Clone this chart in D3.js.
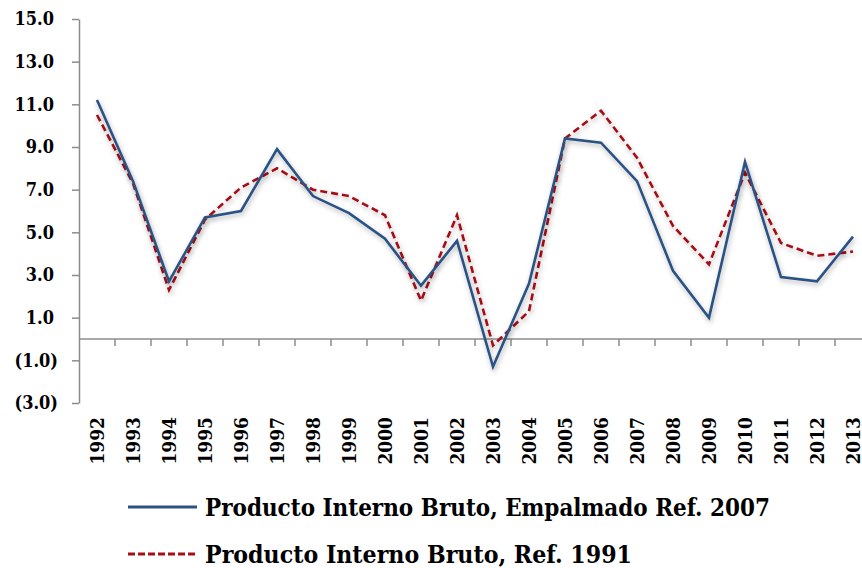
<!DOCTYPE html>
<html>
<head>
<meta charset="utf-8">
<script src="https://cdn.jsdelivr.net/npm/d3@7"></script>
<style>
  body { margin: 0; background: #fff; }
  svg { display: block; }
  text { font-family: "DejaVu Serif Condensed", "DejaVu Serif", serif; font-weight: bold; font-stretch: condensed; fill: #000; }
</style>
</head>
<body>
<div id="chart"></div>
<script>
// Datos
const years = ['1992','1993','1994','1995','1996','1997','1998','1999','2000','2001','2002',
               '2003','2004','2005','2006','2007','2008','2009','2010','2011','2012','2013'];
const pibEmpalmado2007 = [11.2, 7.4, 2.7, 5.7, 6.0, 8.9, 6.7, 5.9, 4.7, 2.5, 4.6,
                          -1.3, 2.6, 9.4, 9.2, 7.4, 3.2, 1.0, 8.3, 2.9, 2.7, 4.8];
const pibRef1991 = [10.5, 7.3, 2.3, 5.6, 7.1, 8.0, 7.0, 6.7, 5.8, 1.8, 5.8,
                    -0.3, 1.3, 9.4, 10.7, 8.5, 5.3, 3.5, 7.8, 4.5, 3.9, 4.1];
const yTicks = [-3, -1, 1, 3, 5, 7, 9, 11, 13, 15];
const seriesNames = ['Producto Interno Bruto, Empalmado Ref. 2007', 'Producto Interno Bruto, Ref. 1991'];

const width = 862, height = 568;
const plotLeft = 79, plotTop = 19, plotBottom = 403;

const svg = d3.select('#chart').append('svg')
    .attr('width', width)
    .attr('height', height);

// Sombra suave de las lineas
const filter = svg.append('defs').append('filter')
    .attr('id', 'shadow')
    .attr('x', '-10%').attr('y', '-10%')
    .attr('width', '120%').attr('height', '130%');
filter.append('feDropShadow')
    .attr('dx', 1).attr('dy', 2.5)
    .attr('stdDeviation', 2.5)
    .attr('flood-color', '#000')
    .attr('flood-opacity', 0.3);

const x = d3.scaleBand()
    .domain(years)
    .range([plotLeft, plotLeft + 36 * years.length]);

const y = d3.scaleLinear()
    .domain([-3, 15])
    .range([plotBottom, plotTop]);

// Eje Y
const yAxis = svg.append('g')
    .attr('transform', `translate(${plotLeft},0)`)
    .call(d3.axisLeft(y).tickValues(yTicks).tickSize(7).tickSizeOuter(0).tickFormat(() => ''));
yAxis.select('.domain').attr('stroke', '#8c8c8c').attr('stroke-width', 1.5);
yAxis.selectAll('.tick line').attr('stroke', '#8c8c8c').attr('stroke-width', 1.5);

svg.append('g')
    .selectAll('text')
    .data(yTicks)
    .enter()
    .append('text')
    .attr('x', d => d < 0 ? 58 : 54)
    .attr('y', d => y(d))
    .attr('dy', '0.36em')
    .attr('text-anchor', 'end')
    .style('font-size', '18px')
    .text(d => d < 0 ? `(${Math.abs(d).toFixed(1)})` : d.toFixed(1));

// Eje X en cero
const xAxis = svg.append('g')
    .attr('transform', `translate(0,${y(0)})`);
xAxis.append('line')
    .attr('x1', plotLeft).attr('x2', width)
    .attr('stroke', '#8c8c8c').attr('stroke-width', 1.5);
xAxis.selectAll('line.tick')
    .data(years.slice(1))
    .enter()
    .append('line')
    .attr('class', 'tick')
    .attr('x1', d => x(d)).attr('x2', d => x(d))
    .attr('y1', 0).attr('y2', 7)
    .attr('stroke', '#8c8c8c').attr('stroke-width', 1.5);

// Etiquetas de anos (abajo del area de grafico)
svg.append('g')
    .selectAll('text')
    .data(years)
    .enter()
    .append('text')
    .attr('transform', d => `translate(${x(d) + x.bandwidth() / 2 + 7},417) rotate(-90)`)
    .attr('text-anchor', 'end')
    .style('font-size', '19px')
    .text(d => d);

// Lineas
const line = d3.line()
    .x((d, i) => x(years[i]) + x.bandwidth() / 2)
    .y(d => y(d));

svg.append('path')
    .datum(pibRef1991)
    .attr('d', line)
    .attr('fill', 'none')
    .attr('stroke', '#a50f15')
    .attr('stroke-width', 2.6)
    .attr('stroke-dasharray', '7,4')
    .attr('filter', 'url(#shadow)');

svg.append('path')
    .datum(pibEmpalmado2007)
    .attr('d', line)
    .attr('fill', 'none')
    .attr('stroke', '#2b5284')
    .attr('stroke-width', 2.6)
    .attr('filter', 'url(#shadow)');

// Leyenda
const legend = svg.append('g');
const legendRows = [
    { name: seriesNames[0], color: '#2b5284', dash: null, y: 507, w: 565 },
    { name: seriesNames[1], color: '#a50f15', dash: '7,3', y: 554, w: 427 }
];
legendRows.forEach(r => {
    legend.append('line')
        .attr('x1', 128).attr('x2', 197)
        .attr('y1', r.y).attr('y2', r.y)
        .attr('stroke', r.color)
        .attr('stroke-width', 3)
        .attr('stroke-dasharray', r.dash);
    legend.append('text')
        .attr('x', 205)
        .attr('y', r.y + 9)
        .style('font-size', '25px')
        .attr('textLength', r.w)
        .attr('lengthAdjust', 'spacingAndGlyphs')
        .text(r.name);
});
</script>
</body>
</html>
